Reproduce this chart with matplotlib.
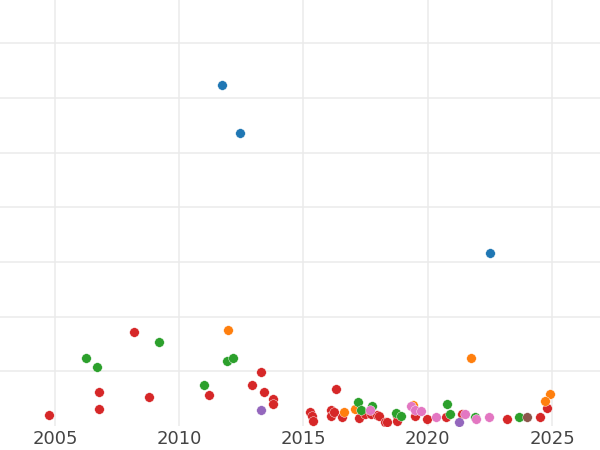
import matplotlib
matplotlib.use("Agg")
import matplotlib.pyplot as plt

# Data (year, value) per group
blue_x = [2011.72, 2012.44, 2022.50]
blue_y = [62.4, 53.5, 31.6]

orange_x = [2011.96, 2021.74, 2024.92, 2024.72, 2016.63, 2017.07, 2019.41]
orange_y = [17.5, 12.4, 5.8, 4.6, 2.6, 3.1, 3.8]

green_x = [2006.25, 2006.69, 2009.19, 2011.00, 2011.92, 2012.16, 2017.19, 2017.31,
           2017.76, 2018.72, 2018.92, 2020.77, 2020.90, 2021.90, 2023.67]
green_y = [12.4, 10.9, 15.3, 7.5, 12.0, 12.4, 4.4, 2.9,
           3.6, 2.4, 1.8, 4.0, 2.2, 1.6, 1.6]

red_x = [2004.76, 2006.77, 2006.77, 2008.18, 2008.78, 2011.20, 2012.93, 2013.29,
         2013.41, 2013.77, 2013.77, 2015.26, 2015.34, 2015.38, 2016.11, 2016.11,
         2016.23, 2016.31, 2016.55, 2017.23, 2017.47, 2017.72, 2017.96, 2018.04,
         2018.28, 2018.36, 2018.76, 2018.76, 2019.49, 2019.97, 2020.73, 2021.38,
         2023.19, 2024.52, 2024.80]
red_y = [2.0, 6.2, 3.1, 17.2, 5.3, 5.7, 7.5, 9.9,
         6.2, 4.9, 4.0, 2.6, 1.8, 0.9, 2.9, 1.8,
         2.6, 6.8, 1.6, 1.5, 2.2, 2.2, 2.0, 1.8,
         0.7, 0.7, 1.8, 0.9, 1.8, 1.3, 1.6, 2.2,
         1.3, 1.6, 3.3]

pink_x = [2017.68, 2019.33, 2019.49, 2019.73, 2020.33, 2021.50, 2021.94, 2022.46]
pink_y = [2.9, 3.6, 2.9, 2.7, 1.6, 2.2, 1.3, 1.6]

purple_x = [2013.29, 2021.26]
purple_y = [2.9, 0.7]

brown_x = [2023.99]
brown_y = [1.6]

x_ticks = [2005, 2010, 2015, 2020, 2025]

series = [
    (red_x, red_y, "#d62728"),
    (orange_x, orange_y, "#ff7f0e"),
    (green_x, green_y, "#2ca02c"),
    (blue_x, blue_y, "#1f77b4"),
    (brown_x, brown_y, "#8c564b"),
    (pink_x, pink_y, "#e377c2"),
    (purple_x, purple_y, "#9467bd"),
]

fig = plt.figure(figsize=(6, 4.5), dpi=100)
ax = fig.add_axes([0, 0.053, 1, 0.947])

for xs, ys, c in series:
    ax.scatter(xs, ys, s=48, color=c, edgecolors="white", linewidths=0.3, zorder=3)

ax.set_xlim(2002.79, 2026.93)
ax.set_ylim(0, 77.9)
ax.set_xticks(x_ticks)
ax.set_xticklabels([str(t) for t in x_ticks])
ax.set_yticks([10, 20, 30, 40, 50, 60, 70])
ax.set_yticklabels([])
ax.tick_params(axis="both", length=0, labelsize=13, labelcolor="#444444", pad=3)
ax.grid(True, color="#ebebeb", linewidth=1.1, zorder=0)
ax.set_axisbelow(True)
for sp in ax.spines.values():
    sp.set_visible(False)

fig.savefig("out.png", dpi=100)
